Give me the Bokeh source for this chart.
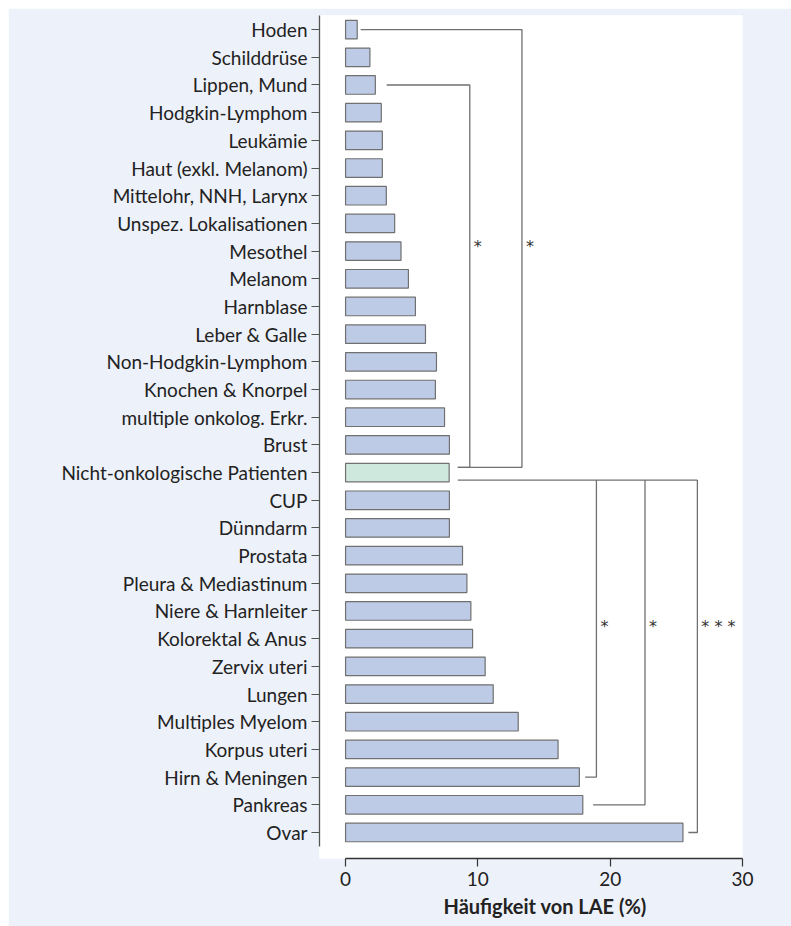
from bokeh.plotting import figure
from bokeh.models import FixedTicker, Title, ColumnDataSource, Range1d
from bokeh.embed import file_html
from bokeh.resources import INLINE
from bokeh.core.properties import value

categories = ["Hoden", "Schilddrüse", "Lippen, Mund", "Hodgkin-Lymphom", "Leukämie",
              "Haut (exkl. Melanom)", "Mittelohr, NNH, Larynx", "Unspez. Lokalisationen",
              "Mesothel", "Melanom", "Harnblase", "Leber & Galle", "Non-Hodgkin-Lymphom",
              "Knochen & Knorpel", "multiple onkolog. Erkr.", "Brust",
              "Nicht-onkologische Patienten", "CUP", "Dünndarm", "Prostata",
              "Pleura & Mediastinum", "Niere & Harnleiter", "Kolorektal & Anus",
              "Zervix uteri", "Lungen", "Multiples Myelom", "Korpus uteri",
              "Hirn & Meningen", "Pankreas", "Ovar"]
values = [0.88, 1.84, 2.25, 2.70, 2.78, 2.78, 3.08, 3.71, 4.19, 4.75, 5.28, 6.04, 6.87,
          6.79, 7.48, 7.85, 7.83, 7.85, 7.85, 8.84, 9.17, 9.47, 9.60, 10.55, 11.16, 13.05,
          16.06, 17.67, 17.93, 25.5]
reference = "Nicht-onkologische Patienten"
x_ticks = [0, 10, 20, 30]
x_title = "Häufigkeit von LAE (%)"

# significance brackets: (category, start x, bracket x, label)
brackets_up = [("Hoden", 1.14, 13.33, "*"), ("Lippen, Mund", 3.11, 9.39, "*")]
brackets_down = [("Hirn & Meningen", 18.11, 18.96, "*"), ("Pankreas", 18.71, 22.63, "*"),
                 ("Ovar", 25.91, 26.59, "* * *")]
ref_start_x = 8.48
star_y_up = 21.15
star_y_down = 7.45

FONT = "Lato"
BG = "#edf1f9"
BAR = "#bdcbe7"
REF = "#cfe8dd"

n = len(categories)
pos = {c: n - 1 - i for i, c in enumerate(categories)}

src = ColumnDataSource(dict(
    y=[pos[c] for c in categories],
    v=values,
    color=[REF if c == reference else BAR for c in categories],
))

p = figure(width=783, height=918, output_backend="svg", toolbar_location=None,
           x_range=Range1d(-1.97, 30), y_range=Range1d(-0.94, 29.51),
           min_border_left=311, min_border_top=7, min_border_right=49, min_border_bottom=68)
p.margin = (8, 0, 0, 8)
p.background_fill_color = "white"
p.border_fill_color = BG
p.outline_line_color = None
p.xgrid.visible = False
p.ygrid.visible = False

p.hbar(y="y", right="v", left=0, height=0.67, fill_color="color",
       line_color="#707070", line_width=1.2, source=src)

# brackets
yr = pos[reference]
line_kw = dict(line_color="#707070", line_width=1.3)
star_kw = dict(text_font=value("DejaVu Sans"), text_font_size="16px", text_baseline="middle",
               text_align="left", text_color="#333333")
for cat, sx, bx, lab in brackets_up:
    yc = pos[cat]
    p.line([sx, bx, bx, ref_start_x], [yc, yc, yr + 0.19, yr + 0.19], **line_kw)
    p.text(x=[bx + 0.3], y=[star_y_up], text=[lab], **star_kw)
max_bx = max(b[2] for b in brackets_down)
p.line([ref_start_x, max_bx], [yr - 0.27, yr - 0.27], **line_kw)
for cat, sx, bx, lab in brackets_down:
    yc = pos[cat]
    p.line([bx, bx, sx], [yr - 0.27, yc, yc], **line_kw)
    p.text(x=[bx + 0.3], y=[star_y_down], text=[lab], **star_kw)

# y axis
ya = p.yaxis[0]
ya.ticker = FixedTicker(ticks=[pos[c] for c in categories])
ya.major_label_overrides = {pos[c]: c for c in categories}
ya.bounds = (-0.5, 29.51)
ya.major_tick_out = 8
ya.major_tick_in = 0
ya.minor_tick_out = 0
ya.minor_tick_in = 0
ya.major_label_standoff = 4
ya.major_label_text_font = FONT
ya.major_label_text_font_size = "19px"
ya.major_label_text_color = "#222222"
ya.axis_line_color = "#555555"
ya.axis_line_width = 1.3
ya.major_tick_line_color = "#555555"
ya.major_tick_line_width = 1.2

# x axis
xa = p.xaxis[0]
xa.ticker = FixedTicker(ticks=x_ticks)
xa.bounds = (0, 30)
xa.major_tick_out = 8
xa.major_tick_in = 0
xa.minor_tick_out = 0
xa.minor_tick_in = 0
xa.major_label_standoff = 5
xa.major_label_text_font = FONT
xa.major_label_text_font_size = "19px"
xa.major_label_text_color = "#222222"
xa.axis_line_color = "#333333"
xa.axis_line_width = 1.3
xa.major_tick_line_color = "#333333"
xa.major_tick_line_width = 1.2

p.add_layout(Title(text=x_title, align="left", offset=124, standoff=7,
                   text_font=FONT, text_font_style="bold", text_font_size="20px",
                   text_color="#222222"), "below")

open("out.html", "w").write(file_html(p, INLINE))
